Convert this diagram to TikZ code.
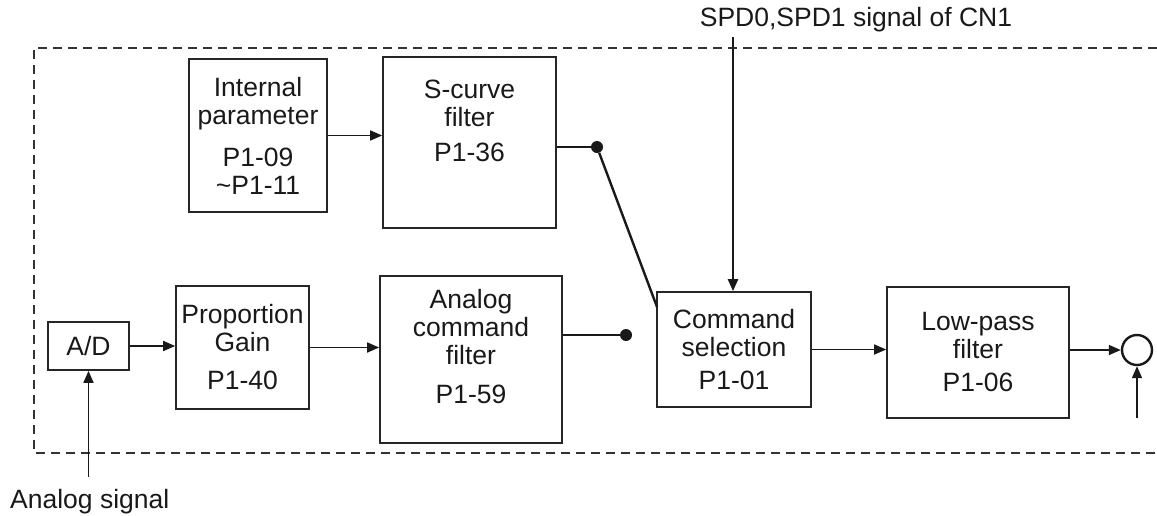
\documentclass[tikz,border=0pt]{standalone}
\usepackage{fontspec}
\setmainfont{Liberation Sans}
\usetikzlibrary{arrows.meta,positioning}

\begin{document}
\begin{tikzpicture}[x=1pt,y=-1pt,
  txt/.style={font=\fontsize{26.5}{28}\selectfont,text=black!90},
  blk/.style={txt,draw=black!85,line width=1.7pt,align=center,inner sep=0pt},
  arr/.style={line width=1.7pt,black!90,-{Triangle[length=12pt,width=10pt]}},
  dot/.style={circle,fill=black!90,inner sep=0pt,minimum size=12pt}]
  \useasboundingbox (0,0) rectangle (1157,515);
  % frame, open on the right
  \draw[line width=1.6pt,black!80,dash pattern=on 9pt off 6pt]
    (1157,48) -- (34,48) -- (34,453) -- (1157,453);
  % blocks
  \node[blk,minimum width=138pt,minimum height=153pt] (ip) at (258,135.5)
    {Internal\\parameter\\[14pt]P1-09\\\textasciitilde P1-11};
  \node[blk,minimum width=173pt,minimum height=171pt,text depth=44pt] (sc) at (469.5,142.5)
    {S-curve\\filter\\[7pt]P1-36};
  \node[blk,minimum width=81pt,minimum height=48pt] (ad) at (88.5,346) {A/D};
  \node[blk,minimum width=133pt,minimum height=123pt] (pg) at (242.5,347.5)
    {Proportion\\Gain\\[10pt]P1-40};
  \node[blk,minimum width=182pt,minimum height=167pt,text depth=26pt] (acf) at (471,359.5)
    {Analog\\command\\filter\\[11pt]P1-59};
  \node[blk,minimum width=154pt,minimum height=115pt] (cs) at (734,349.5)
    {Command\\selection\\[5pt]P1-01};
  \node[blk,minimum width=182pt,minimum height=131pt] (lp) at (978,352.5)
    {Low-pass\\filter\\[5pt]P1-06};
  \node[circle,draw=black!90,line width=2.4pt,minimum size=30pt,inner sep=0pt] (sum) at (1137,350) {};
  \node[dot] (d1) at (597,147) {};
  \node[dot] (d2) at (626,335) {};
  % outside signals
  \node[txt,inner sep=0pt] (spd) at (856,20) {SPD0,SPD1 signal of CN1};
  \node[txt,inner sep=0pt,anchor=west] (asig) at (10,502) {Analog signal};
  \coordinate (spdin) at (733,37);
  \coordinate (ain) at (90,477);
  \coordinate (fb) at (1137,418);
  \coordinate (csin) at (657,307);
  % connections
  \draw[arr] (ip.east) -- (ip.east -| sc.west);
  \draw[line width=1.7pt,black!90] (sc.east |- d1) -- (d1);
  \draw[line width=2.4pt,black!90] (d1) -- (csin);
  \draw[arr] (ad.east) -- (ad.east -| pg.west);
  \draw[arr] (pg.east) -- (pg.east -| acf.west);
  \draw[line width=1.7pt,black!90] (acf.east |- d2) -- (d2);
  \draw[arr,line width=2.4pt] (spdin) -- (spdin |- cs.north);
  \draw[arr] (cs.east) -- (cs.east -| lp.west);
  \draw[arr] (lp.east |- sum) -- (sum.west);
  \draw[arr] (fb) -- (sum.south);
  \draw[arr] (ain -| ad.south) -- (ad.south);
\end{tikzpicture}
\end{document}
